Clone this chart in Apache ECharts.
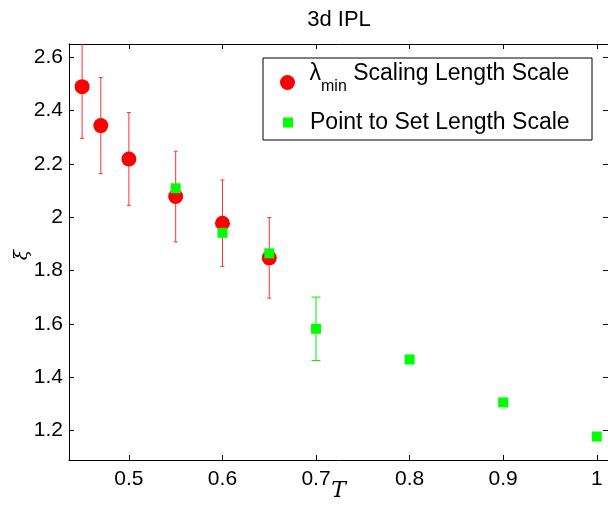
<!DOCTYPE html>
<html>
<head>
<meta charset="utf-8">
<script src="https://cdn.jsdelivr.net/npm/echarts@6/dist/echarts.min.js"></script>
<style>
  html, body { margin: 0; padding: 0; background: #fff; }
  #chart { width: 608px; height: 506px; }
</style>
</head>
<body>
<div id="chart"></div>
<script>
// lambda_min scaling length scale
const tRed = [0.45, 0.47, 0.5, 0.55, 0.6, 0.65];
const xiRed = [2.49, 2.344, 2.219, 2.078, 1.978, 1.848];
const errRed = [0.194, 0.18, 0.174, 0.17, 0.162, 0.151];

// point to set length scale
const tGreen = [0.55, 0.6, 0.65, 0.7, 0.8, 0.9, 1.0];
const xiGreen = [2.109, 1.942, 1.865, 1.582, 1.467, 1.306, 1.178];
const errGreen = [0, 0, 0, 0.119, 0, 0, 0];

const xTicks = [0.5, 0.6, 0.7, 0.8, 0.9, 1.0];
const yTicks = [1.2, 1.4, 1.6, 1.8, 2.0, 2.2, 2.4, 2.6];

const redName = 'λmin Scaling Length Scale';
const greenName = 'Point to Set Length Scale';

const chartEl = document.getElementById('chart');
const chart = echarts.init(chartEl);

const FONT = 'Liberation Sans';
const fmt = v => String(+(+v).toFixed(1));

const errorBar = capHalf => (params, api) => {
  const x = api.value(0);
  const top = api.coord([x, api.value(2)]);
  const bot = api.coord([x, api.value(1)]);
  const style = { stroke: api.visual('color'), lineWidth: 1 };
  return {
    type: 'group',
    children: [
      { type: 'line', shape: { x1: top[0], y1: top[1], x2: bot[0], y2: bot[1] }, style },
      { type: 'line', shape: { x1: top[0] - capHalf, y1: top[1], x2: top[0] + capHalf, y2: top[1] }, style },
      { type: 'line', shape: { x1: bot[0] - capHalf, y1: bot[1], x2: bot[0] + capHalf, y2: bot[1] }, style }
    ]
  };
};

const redErr = tRed.map((t, i) => [t, xiRed[i] - errRed[i], xiRed[i] + errRed[i]]);
const greenErr = tGreen
  .map((t, i) => [t, xiGreen[i] - errGreen[i], xiGreen[i] + errGreen[i]])
  .filter((d, i) => errGreen[i] > 0);

const xBase = {
  type: 'value',
  min: 0.436,
  max: 1.012,
  axisLine: { lineStyle: { color: '#000', width: 1 } },
  axisTick: { inside: true, length: 5, customValues: xTicks, lineStyle: { color: '#000' } },
  splitLine: { show: false }
};
const yBase = {
  type: 'value',
  min: 1.09,
  max: 2.65,
  axisLine: { show: true, lineStyle: { color: '#000', width: 1 } },
  axisTick: { show: true, inside: true, length: 5, customValues: yTicks, lineStyle: { color: '#000' } },
  splitLine: { show: false }
};

const option = {
  animation: false,
  backgroundColor: '#fff',
  title: {
    text: '3d IPL',
    left: 339,
    top: 9,
    padding: 0,
    textAlign: 'center',
    textStyle: { fontFamily: FONT, fontSize: 22, fontWeight: 'normal', color: '#000' }
  },
  grid: { left: 69, right: 0, top: 44, bottom: 46, containLabel: false, outerBoundsMode: 'none' },
  xAxis: [
    {
      ...xBase,
      position: 'bottom',
      name: 'T',
      nameLocation: 'middle',
      nameGap: 20,
      nameMoveOverlap: false,
      nameTextStyle: { fontFamily: 'DejaVu Serif', fontStyle: 'italic', fontSize: 22, color: '#000' },
      axisLabel: { customValues: xTicks, formatter: fmt, margin: 9, fontFamily: FONT, fontSize: 21, color: '#000' }
    },
    { ...xBase, position: 'top', axisLabel: { show: false } }
  ],
  yAxis: [
    {
      ...yBase,
      position: 'left',
      name: 'ξ',
      nameLocation: 'middle',
      nameGap: 37,
      nameRotate: 90,
      nameMoveOverlap: false,
      nameTextStyle: { fontFamily: 'DejaVu Serif', fontStyle: 'italic', fontSize: 19, color: '#000', padding: [0, 6, 0, 0] },
      axisLabel: { customValues: yTicks, formatter: fmt, margin: 6, fontFamily: FONT, fontSize: 21, color: '#000' }
    },
    { ...yBase, position: 'right', axisLabel: { show: false } }
  ],
  graphic: [
    {
      type: 'rect',
      z: 5,
      shape: { x: 263, y: 58, width: 329, height: 82 },
      style: { fill: '#fff', stroke: '#000', lineWidth: 1 }
    }
  ],
  legend: [
    {
      data: [{ name: redName, icon: 'circle' }],
      left: 280,
      top: 62,
      padding: 0,
      itemWidth: 34,
      itemHeight: 15,
      selectedMode: false,
      z: 10,
      formatter: () => '{l|λ}{s|min}{l| Scaling Length Scale}',
      textStyle: {
        rich: {
          l: { fontFamily: FONT, fontSize: 23, color: '#000', verticalAlign: 'top' },
          s: { fontFamily: FONT, fontSize: 16, color: '#000', verticalAlign: 'top', padding: [17, 0, 8, 0] }
        }
      }
    },
    {
      data: [{ name: greenName, icon: 'path://M0,0h10v10h-10z' }],
      left: 283,
      top: 111,
      padding: 0,
      itemWidth: 34,
      itemHeight: 10,
      selectedMode: false,
      z: 10,
      textStyle: { fontFamily: FONT, fontSize: 23, color: '#000' }
    }
  ],
  series: [
    {
      name: redName + ' err',
      type: 'custom',
      renderItem: errorBar(2),
      data: redErr,
      encode: { x: 0, y: [1, 2] },
      itemStyle: { color: '#ff3030' },
      clip: true,
      z: 2
    },
    {
      name: redName,
      type: 'scatter',
      data: tRed.map((t, i) => [t, xiRed[i]]),
      symbol: 'circle',
      symbolSize: 15,
      itemStyle: { color: '#ff0000', opacity: 1 },
      z: 3
    },
    {
      name: greenName,
      type: 'scatter',
      data: tGreen.map((t, i) => [t, xiGreen[i]]),
      symbol: 'rect',
      symbolSize: 10,
      itemStyle: { color: '#00ff00', opacity: 1 },
      z: 4
    },
    {
      name: greenName + ' err',
      type: 'custom',
      renderItem: errorBar(4.5),
      data: greenErr,
      encode: { x: 0, y: [1, 2] },
      itemStyle: { color: '#00ee00' },
      clip: true,
      z: 4
    }
  ]
};

chart.setOption(option);
</script>
</body>
</html>
